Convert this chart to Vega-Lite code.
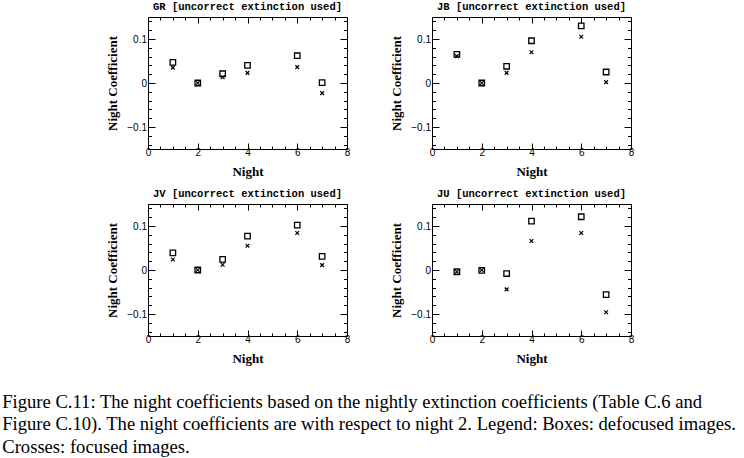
{
  "$schema": "https://vega.github.io/schema/vega-lite/v6.json",
  "background": "white",
  "padding": {"left": 2, "top": 1, "right": 2, "bottom": 2},
  "datasets": {
    "pts": [
      {"panel": "GR", "night": 1, "type": "box", "value": 0.047},
      {"panel": "GR", "night": 2, "type": "box", "value": 0.0},
      {"panel": "GR", "night": 3, "type": "box", "value": 0.021},
      {"panel": "GR", "night": 4, "type": "box", "value": 0.040},
      {"panel": "GR", "night": 6, "type": "box", "value": 0.062},
      {"panel": "GR", "night": 7, "type": "box", "value": 0.001},
      {"panel": "GR", "night": 1, "type": "cross", "value": 0.035},
      {"panel": "GR", "night": 2, "type": "cross", "value": 0.0},
      {"panel": "GR", "night": 3, "type": "cross", "value": 0.013},
      {"panel": "GR", "night": 4, "type": "cross", "value": 0.023},
      {"panel": "GR", "night": 6, "type": "cross", "value": 0.036},
      {"panel": "GR", "night": 7, "type": "cross", "value": -0.023},
      {"panel": "JB", "night": 1, "type": "box", "value": 0.065},
      {"panel": "JB", "night": 2, "type": "box", "value": 0.0},
      {"panel": "JB", "night": 3, "type": "box", "value": 0.038},
      {"panel": "JB", "night": 4, "type": "box", "value": 0.096},
      {"panel": "JB", "night": 6, "type": "box", "value": 0.130},
      {"panel": "JB", "night": 7, "type": "box", "value": 0.025},
      {"panel": "JB", "night": 1, "type": "cross", "value": 0.061},
      {"panel": "JB", "night": 2, "type": "cross", "value": 0.0},
      {"panel": "JB", "night": 3, "type": "cross", "value": 0.023},
      {"panel": "JB", "night": 4, "type": "cross", "value": 0.070},
      {"panel": "JB", "night": 6, "type": "cross", "value": 0.105},
      {"panel": "JB", "night": 7, "type": "cross", "value": 0.002},
      {"panel": "JV", "night": 1, "type": "box", "value": 0.039},
      {"panel": "JV", "night": 2, "type": "box", "value": 0.0},
      {"panel": "JV", "night": 3, "type": "box", "value": 0.024},
      {"panel": "JV", "night": 4, "type": "box", "value": 0.077},
      {"panel": "JV", "night": 6, "type": "box", "value": 0.102},
      {"panel": "JV", "night": 7, "type": "box", "value": 0.031},
      {"panel": "JV", "night": 1, "type": "cross", "value": 0.024},
      {"panel": "JV", "night": 2, "type": "cross", "value": 0.0},
      {"panel": "JV", "night": 3, "type": "cross", "value": 0.012},
      {"panel": "JV", "night": 4, "type": "cross", "value": 0.055},
      {"panel": "JV", "night": 6, "type": "cross", "value": 0.084},
      {"panel": "JV", "night": 7, "type": "cross", "value": 0.011},
      {"panel": "JU", "night": 1, "type": "box", "value": -0.004},
      {"panel": "JU", "night": 2, "type": "box", "value": -0.001},
      {"panel": "JU", "night": 3, "type": "box", "value": -0.008},
      {"panel": "JU", "night": 4, "type": "box", "value": 0.111},
      {"panel": "JU", "night": 6, "type": "box", "value": 0.121},
      {"panel": "JU", "night": 7, "type": "box", "value": -0.056},
      {"panel": "JU", "night": 1, "type": "cross", "value": -0.004},
      {"panel": "JU", "night": 2, "type": "cross", "value": 0.0},
      {"panel": "JU", "night": 3, "type": "cross", "value": -0.044},
      {"panel": "JU", "night": 4, "type": "cross", "value": 0.066},
      {"panel": "JU", "night": 6, "type": "cross", "value": 0.084},
      {"panel": "JU", "night": 7, "type": "cross", "value": -0.096}
    ]
  },
  "data": {"name": "pts"},
  "title": {
    "text": [
      "Figure C.11: The night coefficients based on the nightly extinction coefficients (Table C.6 and",
      "Figure C.10). The night coefficients are with respect to night 2. Legend: Boxes: defocused images.",
      "Crosses: focused images."
    ],
    "orient": "bottom",
    "anchor": "start",
    "frame": "bounds",
    "dx": -104,
    "offset": 27,
    "font": "Liberation Serif",
    "fontSize": 18.6,
    "fontWeight": "normal",
    "lineHeight": 22.5,
    "color": "black"
  },
  "columns": 2,
  "spacing": {"row": 9, "column": 39},
  "concat": [
    {
      "title": "GR [uncorrect extinction used]",
      "width": 199, "height": 132,
      "transform": [{"filter": "datum.panel === 'GR'"}],
      "resolve": {"axis": {"x": "independent", "y": "independent"}},
      "layer": [
        {
          "transform": [{"filter": "datum.type === 'box'"}],
          "mark": {"type": "point", "shape": "square", "filled": false, "stroke": "black", "strokeWidth": 1.3, "size": 30, "opacity": 1},
          "encoding": {
            "x": {"field": "night", "type": "quantitative", "scale": {"domain": [0, 8], "nice": false, "zero": false},
              "axis": {"orient": "bottom", "title": "Night", "values": [0,0.5,1,1.5,2,2.5,3,3.5,4,4.5,5,5.5,6,6.5,7,7.5,8],
                "labelExpr": "datum.value % 2 === 0 ? '' + datum.value : ''", "labelPadding": 4, "titlePadding": 5,
                "tickSize": {"condition": {"test": "datum.value % 2 === 0", "value": -6}, "value": -3}}},
            "y": {"field": "value", "type": "quantitative", "scale": {"domain": [-0.15, 0.15], "nice": false, "zero": false},
              "axis": {"orient": "left", "title": "Night Coefficient", "labelPadding": 8.5, "titlePadding": 7,
                "values": [-0.14,-0.12,-0.1,-0.08,-0.06,-0.04,-0.02,0,0.02,0.04,0.06,0.08,0.1,0.12,0.14],
                "labelExpr": "abs(datum.value) < 1e-9 ? '0' : abs(datum.value - 0.1) < 1e-9 ? '0.1' : abs(datum.value + 0.1) < 1e-9 ? '\u22120.1' : ''",
                "tickSize": {"condition": {"test": "abs(datum.value) < 1e-9 || abs(abs(datum.value) - 0.1) < 1e-9", "value": -7}, "value": -3.5}}}
          }
        },
        {
          "transform": [{"filter": "datum.type === 'cross'"}],
          "mark": {"type": "point", "shape": "M-1,-1L1,1M-1,1L1,-1", "filled": false, "stroke": "black", "strokeWidth": 1.2, "size": 14, "opacity": 1},
          "encoding": {
            "x": {"field": "night", "type": "quantitative",
              "axis": {"orient": "top", "title": null, "labels": false, "values": [0,0.5,1,1.5,2,2.5,3,3.5,4,4.5,5,5.5,6,6.5,7,7.5,8],
                "tickSize": {"condition": {"test": "datum.value % 2 === 0", "value": -6}, "value": -3}}},
            "y": {"field": "value", "type": "quantitative",
              "axis": {"orient": "right", "title": null, "labels": false,
                "values": [-0.14,-0.12,-0.1,-0.08,-0.06,-0.04,-0.02,0,0.02,0.04,0.06,0.08,0.1,0.12,0.14],
                "tickSize": {"condition": {"test": "abs(datum.value) < 1e-9 || abs(abs(datum.value) - 0.1) < 1e-9", "value": -7}, "value": -3.5}}}
          }
        }
      ]
    },
    {
      "title": "JB [uncorrect extinction used]",
      "width": 199, "height": 132,
      "transform": [{"filter": "datum.panel === 'JB'"}],
      "resolve": {"axis": {"x": "independent", "y": "independent"}},
      "layer": [
        {
          "transform": [{"filter": "datum.type === 'box'"}],
          "mark": {"type": "point", "shape": "square", "filled": false, "stroke": "black", "strokeWidth": 1.3, "size": 30, "opacity": 1},
          "encoding": {
            "x": {"field": "night", "type": "quantitative", "scale": {"domain": [0, 8], "nice": false, "zero": false},
              "axis": {"orient": "bottom", "title": "Night", "values": [0,0.5,1,1.5,2,2.5,3,3.5,4,4.5,5,5.5,6,6.5,7,7.5,8],
                "labelExpr": "datum.value % 2 === 0 ? '' + datum.value : ''", "labelPadding": 4, "titlePadding": 5,
                "tickSize": {"condition": {"test": "datum.value % 2 === 0", "value": -6}, "value": -3}}},
            "y": {"field": "value", "type": "quantitative", "scale": {"domain": [-0.15, 0.15], "nice": false, "zero": false},
              "axis": {"orient": "left", "title": "Night Coefficient", "labelPadding": 8.5, "titlePadding": 7,
                "values": [-0.14,-0.12,-0.1,-0.08,-0.06,-0.04,-0.02,0,0.02,0.04,0.06,0.08,0.1,0.12,0.14],
                "labelExpr": "abs(datum.value) < 1e-9 ? '0' : abs(datum.value - 0.1) < 1e-9 ? '0.1' : abs(datum.value + 0.1) < 1e-9 ? '\u22120.1' : ''",
                "tickSize": {"condition": {"test": "abs(datum.value) < 1e-9 || abs(abs(datum.value) - 0.1) < 1e-9", "value": -7}, "value": -3.5}}}
          }
        },
        {
          "transform": [{"filter": "datum.type === 'cross'"}],
          "mark": {"type": "point", "shape": "M-1,-1L1,1M-1,1L1,-1", "filled": false, "stroke": "black", "strokeWidth": 1.2, "size": 14, "opacity": 1},
          "encoding": {
            "x": {"field": "night", "type": "quantitative",
              "axis": {"orient": "top", "title": null, "labels": false, "values": [0,0.5,1,1.5,2,2.5,3,3.5,4,4.5,5,5.5,6,6.5,7,7.5,8],
                "tickSize": {"condition": {"test": "datum.value % 2 === 0", "value": -6}, "value": -3}}},
            "y": {"field": "value", "type": "quantitative",
              "axis": {"orient": "right", "title": null, "labels": false,
                "values": [-0.14,-0.12,-0.1,-0.08,-0.06,-0.04,-0.02,0,0.02,0.04,0.06,0.08,0.1,0.12,0.14],
                "tickSize": {"condition": {"test": "abs(datum.value) < 1e-9 || abs(abs(datum.value) - 0.1) < 1e-9", "value": -7}, "value": -3.5}}}
          }
        }
      ]
    },
    {
      "title": "JV [uncorrect extinction used]",
      "width": 199, "height": 132,
      "transform": [{"filter": "datum.panel === 'JV'"}],
      "resolve": {"axis": {"x": "independent", "y": "independent"}},
      "layer": [
        {
          "transform": [{"filter": "datum.type === 'box'"}],
          "mark": {"type": "point", "shape": "square", "filled": false, "stroke": "black", "strokeWidth": 1.3, "size": 30, "opacity": 1},
          "encoding": {
            "x": {"field": "night", "type": "quantitative", "scale": {"domain": [0, 8], "nice": false, "zero": false},
              "axis": {"orient": "bottom", "title": "Night", "values": [0,0.5,1,1.5,2,2.5,3,3.5,4,4.5,5,5.5,6,6.5,7,7.5,8],
                "labelExpr": "datum.value % 2 === 0 ? '' + datum.value : ''", "labelPadding": 4, "titlePadding": 5,
                "tickSize": {"condition": {"test": "datum.value % 2 === 0", "value": -6}, "value": -3}}},
            "y": {"field": "value", "type": "quantitative", "scale": {"domain": [-0.15, 0.15], "nice": false, "zero": false},
              "axis": {"orient": "left", "title": "Night Coefficient", "labelPadding": 8.5, "titlePadding": 7,
                "values": [-0.14,-0.12,-0.1,-0.08,-0.06,-0.04,-0.02,0,0.02,0.04,0.06,0.08,0.1,0.12,0.14],
                "labelExpr": "abs(datum.value) < 1e-9 ? '0' : abs(datum.value - 0.1) < 1e-9 ? '0.1' : abs(datum.value + 0.1) < 1e-9 ? '\u22120.1' : ''",
                "tickSize": {"condition": {"test": "abs(datum.value) < 1e-9 || abs(abs(datum.value) - 0.1) < 1e-9", "value": -7}, "value": -3.5}}}
          }
        },
        {
          "transform": [{"filter": "datum.type === 'cross'"}],
          "mark": {"type": "point", "shape": "M-1,-1L1,1M-1,1L1,-1", "filled": false, "stroke": "black", "strokeWidth": 1.2, "size": 14, "opacity": 1},
          "encoding": {
            "x": {"field": "night", "type": "quantitative",
              "axis": {"orient": "top", "title": null, "labels": false, "values": [0,0.5,1,1.5,2,2.5,3,3.5,4,4.5,5,5.5,6,6.5,7,7.5,8],
                "tickSize": {"condition": {"test": "datum.value % 2 === 0", "value": -6}, "value": -3}}},
            "y": {"field": "value", "type": "quantitative",
              "axis": {"orient": "right", "title": null, "labels": false,
                "values": [-0.14,-0.12,-0.1,-0.08,-0.06,-0.04,-0.02,0,0.02,0.04,0.06,0.08,0.1,0.12,0.14],
                "tickSize": {"condition": {"test": "abs(datum.value) < 1e-9 || abs(abs(datum.value) - 0.1) < 1e-9", "value": -7}, "value": -3.5}}}
          }
        }
      ]
    },
    {
      "title": "JU [uncorrect extinction used]",
      "width": 199, "height": 132,
      "transform": [{"filter": "datum.panel === 'JU'"}],
      "resolve": {"axis": {"x": "independent", "y": "independent"}},
      "layer": [
        {
          "transform": [{"filter": "datum.type === 'box'"}],
          "mark": {"type": "point", "shape": "square", "filled": false, "stroke": "black", "strokeWidth": 1.3, "size": 30, "opacity": 1},
          "encoding": {
            "x": {"field": "night", "type": "quantitative", "scale": {"domain": [0, 8], "nice": false, "zero": false},
              "axis": {"orient": "bottom", "title": "Night", "values": [0,0.5,1,1.5,2,2.5,3,3.5,4,4.5,5,5.5,6,6.5,7,7.5,8],
                "labelExpr": "datum.value % 2 === 0 ? '' + datum.value : ''", "labelPadding": 4, "titlePadding": 5,
                "tickSize": {"condition": {"test": "datum.value % 2 === 0", "value": -6}, "value": -3}}},
            "y": {"field": "value", "type": "quantitative", "scale": {"domain": [-0.15, 0.15], "nice": false, "zero": false},
              "axis": {"orient": "left", "title": "Night Coefficient", "labelPadding": 8.5, "titlePadding": 7,
                "values": [-0.14,-0.12,-0.1,-0.08,-0.06,-0.04,-0.02,0,0.02,0.04,0.06,0.08,0.1,0.12,0.14],
                "labelExpr": "abs(datum.value) < 1e-9 ? '0' : abs(datum.value - 0.1) < 1e-9 ? '0.1' : abs(datum.value + 0.1) < 1e-9 ? '\u22120.1' : ''",
                "tickSize": {"condition": {"test": "abs(datum.value) < 1e-9 || abs(abs(datum.value) - 0.1) < 1e-9", "value": -7}, "value": -3.5}}}
          }
        },
        {
          "transform": [{"filter": "datum.type === 'cross'"}],
          "mark": {"type": "point", "shape": "M-1,-1L1,1M-1,1L1,-1", "filled": false, "stroke": "black", "strokeWidth": 1.2, "size": 14, "opacity": 1},
          "encoding": {
            "x": {"field": "night", "type": "quantitative",
              "axis": {"orient": "top", "title": null, "labels": false, "values": [0,0.5,1,1.5,2,2.5,3,3.5,4,4.5,5,5.5,6,6.5,7,7.5,8],
                "tickSize": {"condition": {"test": "datum.value % 2 === 0", "value": -6}, "value": -3}}},
            "y": {"field": "value", "type": "quantitative",
              "axis": {"orient": "right", "title": null, "labels": false,
                "values": [-0.14,-0.12,-0.1,-0.08,-0.06,-0.04,-0.02,0,0.02,0.04,0.06,0.08,0.1,0.12,0.14],
                "tickSize": {"condition": {"test": "abs(datum.value) < 1e-9 || abs(abs(datum.value) - 0.1) < 1e-9", "value": -7}, "value": -3.5}}}
          }
        }
      ]
    }
  ],
  "config": {
    "view": {"stroke": "black", "strokeWidth": 1},
    "axis": {
      "domain": false, "grid": false, "tickColor": "black", "tickWidth": 1,
      "labelFont": "Liberation Sans", "labelFontSize": 10, "labelColor": "black",
      "labelFlush": false, "labelOverlap": false,
      "titleFont": "Liberation Serif", "titleFontSize": 13, "titleFontWeight": "bold", "titleColor": "black"
    },
    "title": {"font": "Liberation Mono", "fontSize": 10.5, "fontWeight": "bold", "color": "black", "offset": 4}
  }
}
